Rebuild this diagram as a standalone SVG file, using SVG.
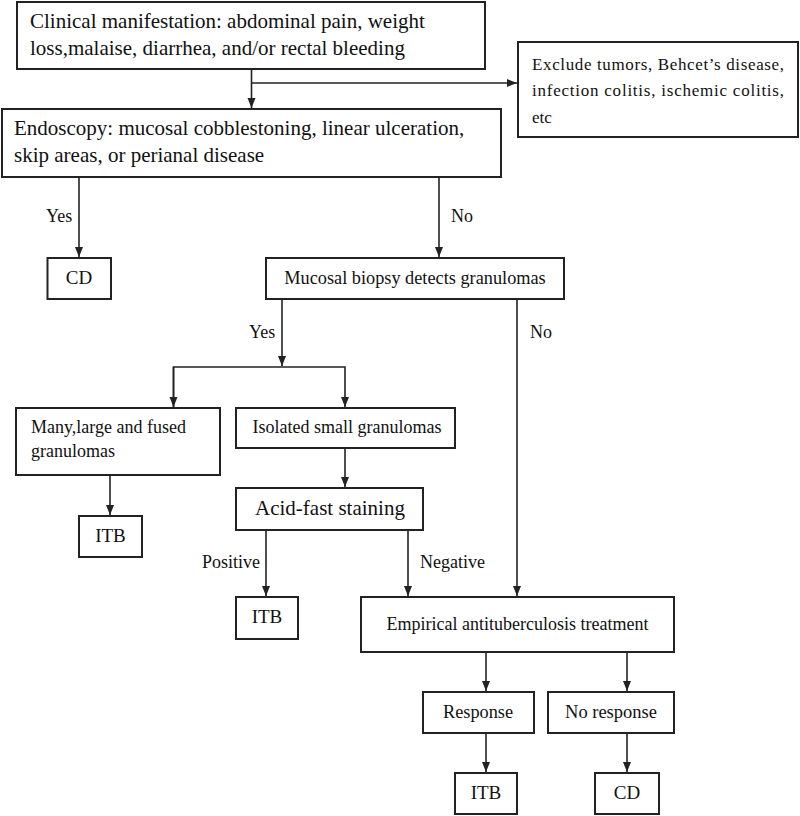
<svg xmlns="http://www.w3.org/2000/svg" width="800" height="816" viewBox="0 0 800 816" font-family="'Liberation Serif', 'Times New Roman', serif">
<style>
.box{fill:#fff;stroke:#222;stroke-width:2}
.t{fill:#111}
.ln{fill:none;stroke:#222;stroke-width:1.6}
</style>
<defs>
<marker id="ah" viewBox="0 0 10 10" refX="10" refY="5" markerWidth="10" markerHeight="10" markerUnits="userSpaceOnUse" orient="auto">
<path d="M0,1 L10,5 L0,9 Z" fill="#222"/>
</marker>
</defs>
<rect width="800" height="816" fill="#fff"/>
<g id="connectors">
<path class="ln" d="M251.5,69 V108" marker-end="url(#ah)"/>
<path class="ln" d="M251.5,83 H517" marker-end="url(#ah)"/>
<path class="ln" d="M79,177 V257" marker-end="url(#ah)"/>
<path class="ln" d="M439,177 V257" marker-end="url(#ah)"/>
<path class="ln" d="M282,299 V366" marker-end="url(#ah)"/>
<path class="ln" d="M517,299 V596" marker-end="url(#ah)"/>
<path class="ln" d="M173.5,407 V367 H345 V407" marker-end="url(#ah)"/>
<path class="ln" d="M173.5,367 V407" marker-end="url(#ah)"/>
<path class="ln" d="M345,448 V487" marker-end="url(#ah)"/>
<path class="ln" d="M110,475 V515" marker-end="url(#ah)"/>
<path class="ln" d="M266,530 V596" marker-end="url(#ah)"/>
<path class="ln" d="M408,530 V596" marker-end="url(#ah)"/>
<path class="ln" d="M486,652 V691" marker-end="url(#ah)"/>
<path class="ln" d="M627,652 V691" marker-end="url(#ah)"/>
<path class="ln" d="M486,733 V772" marker-end="url(#ah)"/>
<path class="ln" d="M627,733 V772" marker-end="url(#ah)"/>
<text class="t" x="46" y="222" font-size="18">Yes</text>
<text class="t" x="451" y="222" font-size="18">No</text>
<text class="t" x="249" y="338" font-size="18">Yes</text>
<text class="t" x="530" y="338" font-size="18">No</text>
<text class="t" x="202" y="568" font-size="18">Positive</text>
<text class="t" x="420" y="568" font-size="18">Negative</text>
</g>
<g id="n-clinical">
<rect class="box" x="17" y="2" width="468" height="67"/>
<text class="t" x="30" y="28" font-size="21">Clinical manifestation: abdominal pain, weight</text>
<text class="t" x="30" y="55" font-size="21">loss,malaise, diarrhea, and/or rectal bleeding</text>
</g>
<g id="n-exclude">
<rect class="box" x="518" y="42" width="280" height="95"/>
<text class="t" x="532" y="70" font-size="17" textLength="252">Exclude tumors, Behcet’s disease,</text>
<text class="t" x="532" y="96" font-size="17" textLength="252">infection colitis, ischemic colitis,</text>
<text class="t" x="532" y="123" font-size="17">etc</text>
</g>
<g id="n-endoscopy">
<rect class="box" x="2" y="109" width="499" height="68"/>
<text class="t" x="14" y="135" font-size="21">Endoscopy: mucosal cobblestoning, linear ulceration,</text>
<text class="t" x="14" y="162" font-size="21">skip areas, or perianal disease</text>
</g>
<g id="n-cd1">
<rect class="box" x="47.5" y="258" width="63.5" height="41"/>
<text class="t" x="79" y="284" font-size="19" text-anchor="middle">CD</text>
</g>
<g id="n-biopsy">
<rect class="box" x="266" y="258" width="298" height="41"/>
<text class="t" x="415" y="284" font-size="18.3" text-anchor="middle">Mucosal biopsy detects granulomas</text>
</g>
<g id="n-many">
<rect class="box" x="16" y="408" width="204" height="67"/>
<text class="t" x="31" y="433" font-size="18">Many,large and fused</text>
<text class="t" x="31" y="457" font-size="18">granulomas</text>
</g>
<g id="n-isolated">
<rect class="box" x="236" y="408" width="219" height="40"/>
<text class="t" x="347" y="433" font-size="18" text-anchor="middle">Isolated small granulomas</text>
</g>
<g id="n-itb1">
<rect class="box" x="79" y="516" width="63" height="41"/>
<text class="t" x="110.5" y="542" font-size="19" text-anchor="middle">ITB</text>
</g>
<g id="n-acid">
<rect class="box" x="236" y="488" width="187" height="42"/>
<text class="t" x="330" y="515" font-size="21" text-anchor="middle">Acid-fast staining</text>
</g>
<g id="n-itb2">
<rect class="box" x="236" y="597" width="62" height="42"/>
<text class="t" x="267" y="623" font-size="19" text-anchor="middle">ITB</text>
</g>
<g id="n-empirical">
<rect class="box" x="361" y="597" width="313" height="55"/>
<text class="t" x="517.5" y="630" font-size="18" text-anchor="middle">Empirical antituberculosis treatment</text>
</g>
<g id="n-response">
<rect class="box" x="423" y="692" width="111" height="41"/>
<text class="t" x="478" y="718" font-size="18.3" text-anchor="middle">Response</text>
</g>
<g id="n-noresponse">
<rect class="box" x="548" y="692" width="126" height="41"/>
<text class="t" x="611" y="718" font-size="18.5" text-anchor="middle">No response</text>
</g>
<g id="n-itb3">
<rect class="box" x="455" y="773" width="62" height="41"/>
<text class="t" x="486" y="799" font-size="19" text-anchor="middle">ITB</text>
</g>
<g id="n-cd2">
<rect class="box" x="595" y="773" width="64" height="41"/>
<text class="t" x="627" y="799" font-size="19" text-anchor="middle">CD</text>
</g>
</svg>
